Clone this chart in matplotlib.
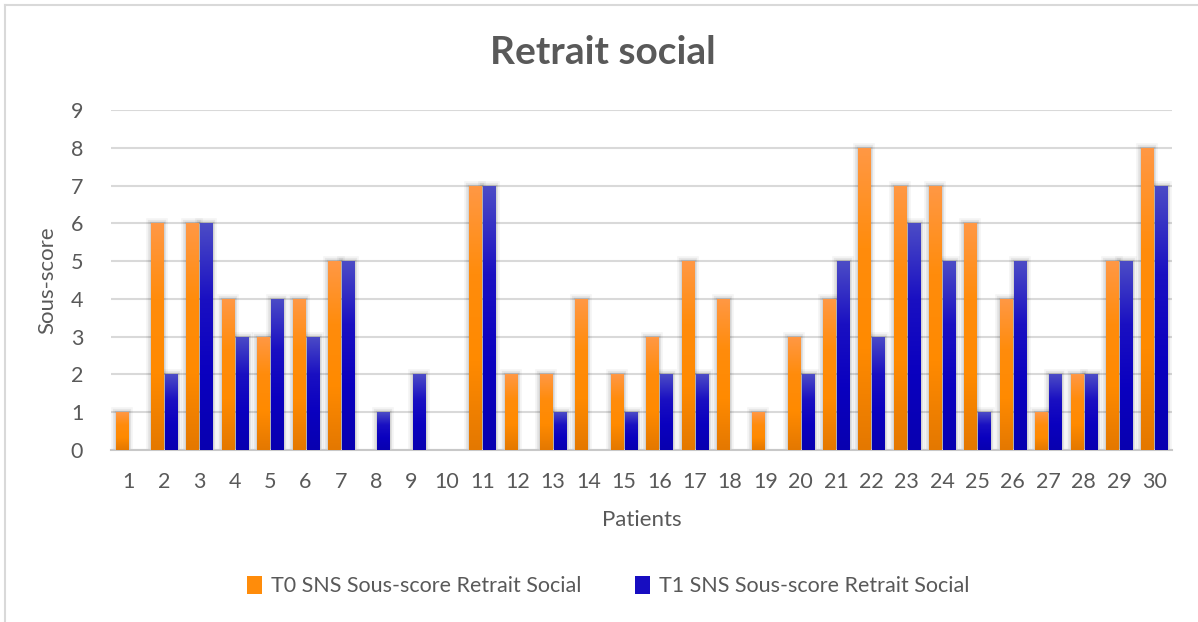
import numpy as np
import matplotlib
matplotlib.use("Agg")
import matplotlib.pyplot as plt
import matplotlib.patheffects as pe
from matplotlib.colors import LinearSegmentedColormap

patients = list(range(1, 31))
t0_scores = [1, 6, 6, 4, 3, 4, 5, 0, 0, 0, 7, 2, 2, 4, 2, 3, 5, 4, 1, 3, 4, 8, 7, 7, 6, 4, 1, 2, 5, 8]
t1_scores = [0, 2, 6, 3, 4, 3, 5, 1, 2, 0, 7, 0, 1, 0, 1, 2, 2, 0, 0, 2, 5, 3, 6, 5, 1, 5, 2, 2, 5, 7]
series_labels = ["T0 SNS Sous-score Retrait Social", "T1 SNS Sous-score Retrait Social"]

plt.rcParams['font.family'] = ['Lato', 'DejaVu Sans']
txt = '#595959'

orange_cmap = LinearSegmentedColormap.from_list('o', ['#ff9845', '#ff8c0c', '#ff8a00', '#e47800'])
blue_cmap = LinearSegmentedColormap.from_list('b', ['#4c4cc6', '#1a10c2', '#0a00bf', '#0800b0'])

fig = plt.figure(figsize=(11.98, 6.22), dpi=100)
ax = fig.add_axes([111/1198, 172/622, 1061/1198, 340/622])

# outer chart border (left and top visible)
fig.add_artist(plt.Line2D([5/1198, 5/1198], [0, 617/622], color='#d9d9d9', lw=1.5))
fig.add_artist(plt.Line2D([5/1198, 1], [617/622, 617/622], color='#d9d9d9', lw=1.5))

x = np.arange(len(patients))
w = 0.34
gap = 0.056
grad = np.linspace(0, 1, 256).reshape(-1, 1)

shadow = [pe.Stroke(linewidth=7, foreground='#000000', alpha=0.04),
          pe.Stroke(linewidth=4.5, foreground='#000000', alpha=0.06),
          pe.Stroke(linewidth=2.5, foreground='#000000', alpha=0.08)]

for vals, offs, cmap, lab in [(t0_scores, -(w + gap) / 2, orange_cmap, series_labels[0]),
                              (t1_scores, (w + gap) / 2, blue_cmap, series_labels[1])]:
    bars = ax.bar(x + offs, vals, width=w, facecolor='none', edgecolor='none', zorder=2)
    for b in bars:
        h = b.get_height()
        if h <= 0:
            continue
        b.set_path_effects(shadow)
        b.set_edgecolor('#888888')
        b.set_linewidth(0.01)
        x0 = b.get_x()
        im = ax.imshow(grad, cmap=cmap, aspect='auto', extent=[x0, x0 + b.get_width(), 0, h],
                       zorder=3, interpolation='bilinear')
        im.set_clip_path(b)
    ax.bar([0], [0], color=cmap(0.4), label=lab)

ax.set_xlim(-0.5, len(patients) - 0.5)
ax.set_ylim(0, 9)
ax.set_yticks(range(10))
ax.set_xticks(x)
ax.set_xticklabels([str(p) for p in patients])
ax.grid(axis='y', color='#d9d9d9', lw=1.5, zorder=0)
ax.set_axisbelow(True)
for s in ['top', 'right', 'left']:
    ax.spines[s].set_visible(False)
ax.spines['bottom'].set_color('#c8c8c8')
ax.spines['bottom'].set_linewidth(1.5)
ax.tick_params(axis='both', length=0, labelsize=15.5, colors=txt)
ax.tick_params(axis='x', pad=16)
ax.tick_params(axis='y', pad=20)

fig.text(0.503, 1 - 53/622, "Retrait social", fontsize=28, fontweight='bold', color=txt,
         ha='center', va='center')
ax.set_xlabel("Patients", fontsize=16, color=txt, labelpad=13)
ax.set_ylabel("Sous-score", fontsize=16, color=txt, labelpad=10)

leg = fig.legend(loc='center', bbox_to_anchor=(608/1198, 36/622), ncol=2, frameon=False,
                 fontsize=15.5, handlelength=0.7, handleheight=0.9, columnspacing=2.5,
                 handletextpad=0.4, labelcolor=txt)

fig.savefig("out.png", dpi=100, facecolor='white')
